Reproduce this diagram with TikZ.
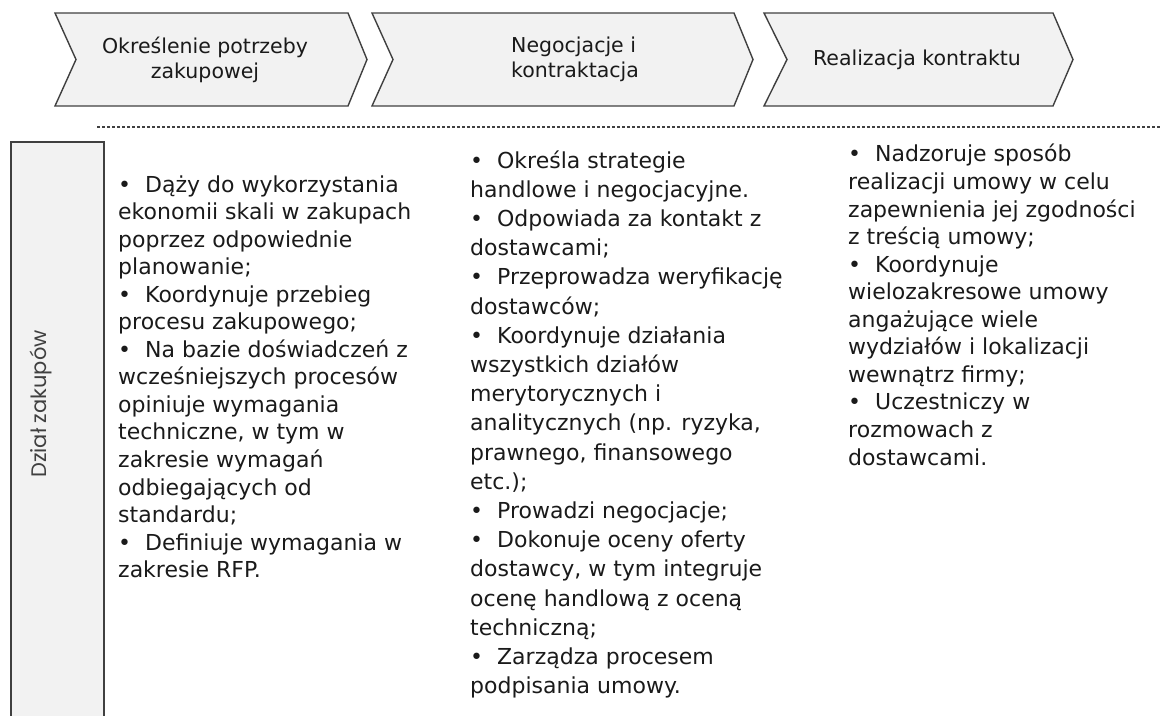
\documentclass[tikz,border=0pt]{standalone}
\usepackage{fontspec}
\setmainfont{DejaVu Sans}
\newfontfamily\labelfont{Poppins}
\definecolor{boxfill}{HTML}{F2F2F2}
\definecolor{boxline}{HTML}{404040}
\definecolor{txt}{HTML}{1A1A1A}
\tikzset{
  chev/.style={fill=boxfill, draw=boxline, line width=1.4pt, line join=miter},
  chevtext/.style={align=center, inner sep=0, text=txt, font=\fontsize{20.5}{25}\selectfont},
  coltext/.style={align=left, inner sep=0, anchor=base west, text=txt, font=\fontsize{22}{27.55}\selectfont},
  sep/.style={draw=boxline, line width=1.3pt, dash pattern=on 3pt off 2pt}
}
\begin{document}
\begin{tikzpicture}[x=1pt,y=-1pt]
\useasboundingbox (0,0) rectangle (1162,715);
% chevrons
\path[chev] (55,13) -- (348,13) -- (367,59.5) -- (348,106) -- (55,106) -- (76,59.5) -- cycle;
\path[chev] (372,13) -- (734,13) -- (753,59.5) -- (734,106) -- (372,106) -- (393,59.5) -- cycle;
\path[chev] (764,13) -- (1053,13) -- (1073,59.5) -- (1053,106) -- (764,106) -- (787,59.5) -- cycle;
\node[chevtext] (c1) at (205,59.5) {Określenie potrzeby\\zakupowej};
\node[chevtext, align=left, anchor=west] (c2) at (511,59.5) {Negocjacje i\\kontraktacja};
\node[chevtext] (c3) at (917,59.5) {Realizacja kontraktu};
% dashed separator
\coordinate (s1) at (97,127);
\coordinate (s2) at (1162,127);
\draw[sep] (s1) -- (s2);
% left box
\fill[boxfill] (11,142) rectangle (104,716);
\draw[boxline, line width=1.4pt] (11,716) -- (11,142) -- (104,142) -- (104,716);
\node[rotate=90, inner sep=0, text=boxline, font=\labelfont\fontsize{21}{24}\selectfont] (lab) at (41,404) {Dział zakupów};
% columns (anchored at the baseline of the last line)
\node[coltext] (col1) at (118,577.7) {•\ \ Dąży do wykorzystania\\
ekonomii skali w zakupach\\
poprzez odpowiednie\\
planowanie;\\
•\ \ Koordynuje przebieg\\
procesu zakupowego;\\
•\ \ Na bazie doświadczeń z\\
wcześniejszych procesów\\
opiniuje wymagania\\
techniczne, w tym w\\
zakresie wymagań\\
odbiegających od\\
standardu;\\
•\ \ Definiuje wymagania w\\
zakresie RFP.};
\node[coltext, font=\fontsize{22}{29.2}\selectfont] (col2) at (470,693.6) {•\ \ Określa strategie\\
handlowe i negocjacyjne.\\
•\ \ Odpowiada za kontakt z\\
dostawcami;\\
•\ \ Przeprowadza weryfikację\\
dostawców;\\
•\ \ Koordynuje działania\\
wszystkich działów\\
merytorycznych i\\
analitycznych (np. ryzyka,\\
prawnego, finansowego\\
etc.);\\
•\ \ Prowadzi negocjacje;\\
•\ \ Dokonuje oceny oferty\\
dostawcy, w tym integruje\\
ocenę handlową z oceną\\
techniczną;\\
•\ \ Zarządza procesem\\
podpisania umowy.};
\node[coltext] (col3) at (848,465) {•\ \ Nadzoruje sposób\\
realizacji umowy w celu\\
zapewnienia jej zgodności\\
z treścią umowy;\\
•\ \ Koordynuje\\
wielozakresowe umowy\\
angażujące wiele\\
wydziałów i lokalizacji\\
wewnątrz firmy;\\
•\ \ Uczestniczy w\\
rozmowach z\\
dostawcami.};
\end{tikzpicture}
\end{document}
